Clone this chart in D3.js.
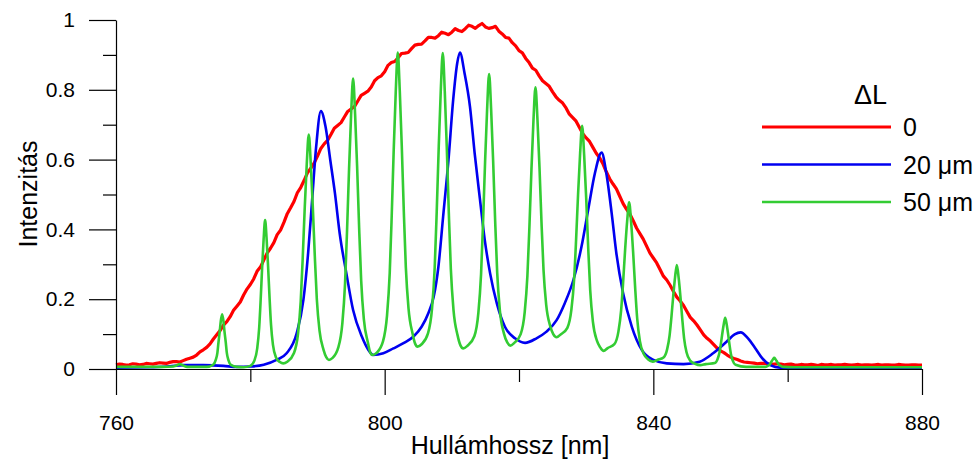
<!DOCTYPE html>
<html>
<head>
<meta charset="utf-8">
<script src="https://cdn.jsdelivr.net/npm/d3@7"></script>
<style>
  body { margin: 0; background: #fff; }
  text { font-family: "Liberation Sans", Arial, Helvetica, sans-serif; }
</style>
</head>
<body>
<svg id="chart" width="976" height="461"></svg>
<script>
// ΔL = 0 : measured source spectrum, one value every 0.5 nm from 760 to 880
var redStart = 760;
var redStep = 0.5;
var redValues = [
  0.012, 0.014, 0.013, 0.011, 0.012, 0.015, 0.014, 0.012, 0.013, 0.016,
  0.015, 0.014, 0.016, 0.018, 0.017, 0.016, 0.019, 0.021, 0.021, 0.020,
  0.024, 0.028, 0.031, 0.034, 0.040, 0.049, 0.055, 0.062, 0.072, 0.086,
  0.098, 0.110, 0.126, 0.136, 0.150, 0.168, 0.180, 0.192, 0.212, 0.229,
  0.242, 0.258, 0.280, 0.292, 0.312, 0.332, 0.346, 0.362, 0.385, 0.398,
  0.420, 0.445, 0.462, 0.480, 0.505, 0.520, 0.540, 0.562, 0.575, 0.590,
  0.610, 0.632, 0.645, 0.655, 0.672, 0.690, 0.698, 0.706, 0.722, 0.738,
  0.745, 0.752, 0.768, 0.784, 0.790, 0.796, 0.808, 0.826, 0.835, 0.840,
  0.852, 0.870, 0.878, 0.881, 0.892, 0.904, 0.905, 0.907, 0.918, 0.928,
  0.930, 0.931, 0.940, 0.950, 0.950, 0.948, 0.955, 0.965, 0.962, 0.958,
  0.965, 0.975, 0.970, 0.967, 0.975, 0.985, 0.982, 0.976, 0.984, 0.990,
  0.980, 0.976, 0.978, 0.982, 0.968, 0.960, 0.950, 0.948, 0.935, 0.926,
  0.912, 0.906, 0.890, 0.878, 0.862, 0.856, 0.840, 0.826, 0.818, 0.810,
  0.794, 0.780, 0.770, 0.762, 0.748, 0.730, 0.720, 0.710, 0.692, 0.674,
  0.662, 0.652, 0.635, 0.618, 0.605, 0.588, 0.565, 0.545, 0.530, 0.516,
  0.495, 0.474, 0.458, 0.444, 0.425, 0.404, 0.388, 0.372, 0.352, 0.332,
  0.318, 0.304, 0.285, 0.266, 0.255, 0.240, 0.222, 0.206, 0.195, 0.182,
  0.165, 0.148, 0.138, 0.126, 0.112, 0.098, 0.088, 0.080, 0.070, 0.060,
  0.052, 0.047, 0.040, 0.034, 0.030, 0.027, 0.023, 0.020, 0.019, 0.018,
  0.017, 0.015, 0.016, 0.016, 0.015, 0.013, 0.014, 0.015, 0.014, 0.012,
  0.013, 0.014, 0.012, 0.011, 0.013, 0.012, 0.012, 0.013, 0.012, 0.010,
  0.013, 0.012, 0.012, 0.013, 0.011, 0.012, 0.012, 0.013, 0.012, 0.011,
  0.012, 0.013, 0.011, 0.012, 0.012, 0.011, 0.012, 0.013, 0.011, 0.012,
  0.012, 0.011, 0.011, 0.013, 0.012, 0.011, 0.011, 0.012, 0.012, 0.011,
  0.011
];

// ΔL = 20 µm : [wavelength nm, intensity]
var blueData = [
  [760,0.004],[765,0.005],[768,0.008],[770,0.011],[773,0.011],[776,0.009],[778,0.006],[780,0.007],
  [782,0.012],[783.9,0.026],[785.4,0.045],[786.9,0.102],[787.9,0.198],[788.6,0.331],[789.2,0.484],
  [789.8,0.637],[790.5,0.739],[791.2,0.694],[791.9,0.599],[792.6,0.503],[793.3,0.389],[794.3,0.274],
  [795.3,0.169],[796.6,0.093],[797.6,0.054],[798.3,0.040],[799.8,0.045],[801.3,0.059],[802.8,0.074],
  [804.3,0.093],[805.5,0.121],[806.5,0.160],[807.3,0.207],[808.0,0.293],[808.7,0.436],[809.5,0.599],
  [810.2,0.771],[810.8,0.876],[811.2,0.907],[811.9,0.847],[812.7,0.752],[813.4,0.618],[814.2,0.484],
  [814.9,0.370],[815.7,0.274],[816.7,0.188],[817.9,0.121],[819.4,0.088],[820.9,0.075],[822.6,0.088],
  [824.1,0.107],[825.6,0.140],[826.8,0.188],[828.1,0.255],[829.3,0.350],[830.3,0.456],[831.3,0.561],
  [832.3,0.620],[833.0,0.561],[833.8,0.446],[834.5,0.331],[835.5,0.217],[836.8,0.121],[838.3,0.054],
  [840.0,0.026],[842.0,0.016],[844.5,0.014],[846.9,0.021],[848.9,0.045],[850.9,0.078],[852.1,0.099],
  [853.0,0.105],[854.1,0.088],[855.2,0.059],[856.2,0.031],[857.4,0.011],[858.9,0.004],[865,0.003],[880,0.003]
];

// ΔL = 50 µm : [wavelength nm, intensity]
var greenData = [
  [760,0.006],[764,0.006],[767,0.006],[768.5,0.007],[769,0.010],[769.5,0.014],[770,0.010],[770.6,0.006],[773.5,0.006],
  [774.5,0.013],[774.85,0.026],[775.1,0.047],[775.25,0.075],[775.45,0.109],[775.6,0.137],[775.8,0.157],
  [776,0.137],[776.15,0.108],[776.35,0.075],[776.5,0.046],[776.75,0.025],[777.1,0.012],
  [778,0.006],[779,0.005],[780,0.009],
  [780.6,0.024],[781.03,0.060],[781.32,0.119],[781.54,0.199],[781.76,0.292],[781.98,0.372],[782.2,0.427],
  [782.42,0.374],[782.64,0.295],[782.86,0.205],[783.08,0.127],[783.37,0.069],[783.8,0.034],
  [784.4,0.020],[784.9,0.016],[785.5,0.021],
  [786.5,0.046],[787.1,0.101],[787.5,0.193],[787.8,0.318],[788.1,0.462],[788.4,0.587],[788.7,0.672],
  [789.0,0.588],[789.3,0.465],[789.6,0.323],[789.9,0.200],[790.3,0.110],[790.9,0.055],
  [791.3,0.034],[791.7,0.026],[792.2,0.031],
  [793.1,0.062],[793.7,0.131],[794.1,0.244],[794.4,0.397],[794.7,0.574],[795.0,0.727],[795.3,0.832],
  [795.6,0.729],[795.9,0.579],[796.2,0.404],[796.5,0.254],[796.9,0.143],[797.5,0.076],
  [797.85,0.047],[798.2,0.040],[798.8,0.046],
  [799.75,0.079],[800.35,0.153],[800.75,0.274],[801.05,0.439],[801.35,0.630],[801.65,0.794],[801.95,0.907],
  [802.25,0.797],[802.55,0.637],[802.85,0.452],[803.15,0.292],[803.55,0.174],[804.15,0.102],
  [804.55,0.072],[804.9,0.064],[805.5,0.071],
  [806.45,0.102],[807.05,0.173],[807.45,0.291],[807.75,0.451],[808.05,0.636],[808.35,0.796],[808.65,0.905],
  [808.95,0.795],[809.25,0.634],[809.55,0.448],[809.85,0.287],[810.25,0.169],[810.85,0.097],
  [811.3,0.067],[811.7,0.059],[812.3,0.066],
  [813.35,0.094],[813.95,0.161],[814.35,0.271],[814.65,0.421],[814.95,0.593],[815.25,0.743],[815.55,0.845],
  [815.85,0.744],[816.15,0.596],[816.45,0.425],[816.75,0.277],[817.15,0.168],[817.75,0.102],
  [818.25,0.076],[818.7,0.067],[819.3,0.075],
  [820.25,0.100],[820.85,0.163],[821.25,0.267],[821.55,0.407],[821.85,0.570],[822.15,0.711],[822.45,0.807],
  [822.75,0.714],[823.05,0.578],[823.35,0.420],[823.65,0.284],[824.05,0.184],[824.65,0.123],
  [825.1,0.100],[825.6,0.091],[826.2,0.099],
  [827.2,0.118],[827.8,0.170],[828.2,0.255],[828.5,0.370],[828.8,0.503],[829.1,0.618],[829.4,0.697],
  [829.7,0.613],[830.0,0.491],[830.3,0.349],[830.6,0.226],[831.0,0.136],[831.6,0.081],
  [832.1,0.062],[832.6,0.052],[833.2,0.060],
  [834.2,0.071],[834.8,0.107],[835.2,0.167],[835.5,0.248],[835.8,0.342],[836.1,0.423],[836.4,0.478],
  [836.7,0.419],[837.0,0.332],[837.3,0.231],[837.6,0.144],[838.0,0.080],[838.6,0.042],
  [839.2,0.028],[839.9,0.021],[840.6,0.026],
  [841.52,0.033],[842.06,0.057],[842.42,0.096],[842.69,0.148],[842.96,0.209],[843.23,0.262],[843.5,0.298],
  [843.77,0.261],[844.04,0.206],[844.31,0.143],[844.58,0.088],[844.94,0.048],[845.48,0.024],
  [846.2,0.015],[847.0,0.011],[847.8,0.014],
  [849.16,0.017],[849.58,0.029],[849.86,0.048],[850.07,0.074],[850.28,0.103],[850.49,0.129],[850.7,0.147],
  [850.91,0.129],[851.12,0.102],[851.33,0.071],[851.54,0.044],[851.82,0.024],[852.24,0.012],
  [853.8,0.006],
  [856.68,0.006],[857.04,0.009],[857.28,0.012],[857.46,0.017],[857.64,0.023],[857.82,0.028],[858.0,0.032],
  [858.18,0.028],[858.36,0.023],[858.54,0.017],[858.72,0.012],[858.96,0.009],[859.32,0.006],
  [861,0.005],[870,0.005],[880,0.005]
];

var xTicks = [760, 800, 840, 880];
var xMinorTicks = [780, 820, 860];
var yTicks = [0, 0.2, 0.4, 0.6, 0.8, 1];
var yMinorTicks = [0.1, 0.3, 0.5, 0.7, 0.9];
var legendTitle = "\u0394L";
var legendLabels = ["0", "20 \u03bcm", "50 \u03bcm"];
var seriesColors = ["#ff0000", "#0000f0", "#33cc33"];

var svg = d3.select("#chart");
var x = d3.scaleLinear().domain([760, 880]).range([116, 922]);
var y = d3.scaleLinear().domain([0, 1]).range([369, 20]);

var redData = redValues.map(function(v, i) { return [redStart + i * redStep, v]; });

var smoothLine = d3.line()
  .x(function(d) { return x(d[0]); })
  .y(function(d) { return y(d[1]); })
  .curve(d3.curveMonotoneX);

var rawLine = d3.line()
  .x(function(d) { return x(d[0]); })
  .y(function(d) { return y(d[1]); });

// curves: red is raw (noisy) data, the others are smooth fringes
var series = [
  { data: redData, color: seriesColors[0], width: 3.2, gen: rawLine },
  { data: blueData, color: seriesColors[1], width: 2.6, gen: smoothLine },
  { data: greenData, color: seriesColors[2], width: 2.6, gen: smoothLine }
];
svg.append("g").selectAll("path")
  .data(series)
  .enter().append("path")
  .attr("d", function(s) { return s.gen(s.data); })
  .attr("fill", "none")
  .attr("stroke", function(s) { return s.color; })
  .attr("stroke-width", function(s) { return s.width; })
  .attr("stroke-linejoin", "round");

// axes
function styleAxis(g) {
  g.attr("font-size", 21).attr("font-family", "'Liberation Sans', Arial, Helvetica, sans-serif");
  g.selectAll("line").attr("stroke", "#000").attr("stroke-width", 1.2);
  g.selectAll("path").attr("stroke", "#000").attr("stroke-width", 1.2);
  g.selectAll("text").attr("fill", "#000");
}

svg.append("g")
  .attr("transform", "translate(0,369)")
  .call(d3.axisBottom(x).tickValues(xTicks).tickSize(26).tickSizeOuter(0).tickPadding(20)
    .tickFormat(d3.format("d")))
  .call(styleAxis);

svg.append("g")
  .attr("transform", "translate(0,369)")
  .call(d3.axisBottom(x).tickValues(xMinorTicks).tickSize(13).tickFormat(""))
  .call(function(g) { g.select(".domain").remove(); })
  .call(styleAxis);

svg.append("g")
  .attr("transform", "translate(116,0)")
  .call(d3.axisLeft(y).tickValues(yTicks).tickSize(27).tickSizeOuter(0).tickPadding(14)
    .tickFormat(function(d) { return String(d); }))
  .call(styleAxis);

svg.append("g")
  .attr("transform", "translate(116,0)")
  .call(d3.axisLeft(y).tickValues(yMinorTicks).tickSize(13).tickFormat(""))
  .call(function(g) { g.select(".domain").remove(); })
  .call(styleAxis);

// axis titles
svg.append("text")
  .attr("x", 510).attr("y", 454)
  .attr("text-anchor", "middle")
  .attr("font-size", 25)
  .text("Hullámhossz [nm]");

svg.append("text")
  .attr("transform", "translate(37,194) rotate(-90)")
  .attr("text-anchor", "middle")
  .attr("font-size", 25)
  .text("Intenzitás");

// legend
var legend = svg.append("g");
legend.append("text")
  .attr("x", 887).attr("y", 104)
  .attr("text-anchor", "end")
  .attr("font-size", 27)
  .text(legendTitle);

var rows = legend.selectAll("g.row")
  .data(legendLabels)
  .enter().append("g")
  .attr("class", "row")
  .attr("transform", function(d, i) { return "translate(0," + (127 + i * 37.5) + ")"; });

rows.append("line")
  .attr("x1", 762).attr("x2", 891)
  .attr("stroke", function(d, i) { return seriesColors[i]; })
  .attr("stroke-width", function(d, i) { return i === 0 ? 3 : 2.6; });

rows.append("text")
  .attr("x", 903).attr("y", 9)
  .attr("font-size", 25)
  .text(function(d) { return d; });
</script>
</body>
</html>
